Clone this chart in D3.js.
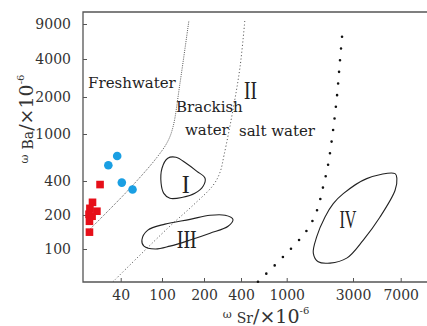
<!DOCTYPE html>
<html>
<head>
<meta charset="utf-8">
<script src="https://cdn.jsdelivr.net/npm/d3@7"></script>
<style>
  body { margin: 0; background: #fff; }
  text { font-family: "DejaVu Serif", serif; }
</style>
</head>
<body>
<script>
  // axis ticks (values) and where the original figure put them
  const xTicks = [40, 100, 200, 400, 1000, 3000, 7000];
  const yTicks = [100, 200, 400, 1000, 2000, 4000, 9000];
  const xTickPx = [120.7, 162, 204, 241, 286.7, 353, 400.7];
  const yTickPx = [249, 215, 181, 134, 97, 59, 24];

  // samples: Sr and Ba (x10^-6)
  const squareSr = [25.3, 21.4, 20.2, 23.6, 19.8, 21.2, 20.0, 20.0];
  const squareBa = [372, 259, 229, 216, 203, 195, 176, 141];
  const circleSr = [37, 30.4, 41, 52];
  const circleBa = [651, 543, 387, 336];

  // boundary curves [Sr, Ba]
  const freshLine = [[19.8, 147], [49.2, 345], [89.5, 635], [110, 867], [120, 1144], [134.6, 2578], [156, 9800]];
  const brackishLine = [[33.7, 51.3], [110, 153], [167, 244], [237, 366], [270, 474], [291, 660], [344, 1565], [393, 3467], [433, 10100]];
  const saltLine = [[562, 51.3], [928, 85], [1400, 147], [1652, 220], [1825, 352], [1982, 543], [2154, 1063], [2300, 2026], [2417, 3875], [2541, 8593]];

  // fields I, III, IV [Sr, Ba]
  const fieldI = [[110, 623], [126, 635], [149, 565], [178, 483], [204, 422], [197, 359], [172, 311], [141, 287], [114, 281], [103, 311], [98, 382], [100, 513]];
  const fieldIII = [[64, 120], [73, 147], [105, 166], [159, 183], [224, 199], [297, 199], [344, 183], [314, 159], [224, 138], [159, 120], [114, 106], [86, 100], [67, 106]];
  const fieldIV = [[6336, 462], [3827, 419], [2553, 309], [2163, 252], [1887, 192], [1643, 128], [1554, 92], [1687, 77], [2049, 75], [2703, 83], [3601, 120], [4850, 192], [6336, 331], [6540, 419]];

  const zoneNames = ["Freshwater", "Brackish", "water", "salt water"];
  const zoneSr = [19.4, 126, 146, 385];
  const zoneBa = [2349, 1508, 976, 957];
  const fieldNames = ["I", "II", "III", "IV"];
  const fieldSr = [147.9, 484, 150.4, 2761];
  const fieldBa = [311, 1917, 102, 152.8];
  const fieldW = [8, 13, 20, 17];

  const width = 427, height = 326;
  const plot = { left: 83, right: 427, top: 12, bottom: 282 };

  const svg = d3.select("body").append("svg")
    .attr("width", width)
    .attr("height", height);

  const x = d3.scaleLog().domain(xTicks).range(xTickPx);
  const y = d3.scaleLog().domain(yTicks).range(yTickPx);

  const axisColor = "#555";

  const yAxis = svg.append("g")
    .attr("transform", `translate(${plot.left},0)`)
    .call(d3.axisLeft(y).tickValues(yTicks).tickFormat(d3.format("d"))
      .tickSizeInner(-4).tickSizeOuter(0).tickPadding(12));
  const xAxis = svg.append("g")
    .attr("transform", `translate(0,${plot.bottom})`)
    .call(d3.axisBottom(x).tickValues(xTicks).tickFormat(d3.format("d"))
      .tickSizeInner(-4).tickSizeOuter(0).tickPadding(8));

  [xAxis, yAxis].forEach((g) => {
    g.select(".domain").remove();
    g.attr("font-family", "DejaVu Serif").attr("font-size", 14);
    g.selectAll("line").attr("stroke", axisColor);
    g.selectAll("text").attr("fill", "#333");
  });

  // frame: top, left, bottom
  svg.append("path")
    .attr("d", `M${plot.right},${plot.top}H${plot.left}V${plot.bottom}H${plot.right}`)
    .attr("fill", "none")
    .attr("stroke", axisColor)
    .attr("stroke-width", 1.3);

  const line = d3.line()
    .x((d) => x(d[0]))
    .y((d) => y(d[1]))
    .curve(d3.curveCatmullRom.alpha(0.5));
  const blob = d3.line()
    .x((d) => x(d[0]))
    .y((d) => y(d[1]))
    .curve(d3.curveCatmullRomClosed.alpha(0.5));

  svg.append("path").datum(freshLine)
    .attr("d", line).attr("fill", "none")
    .attr("stroke", "#444").attr("stroke-width", 0.9)
    .attr("stroke-dasharray", "1 1.2");
  svg.append("path").datum(brackishLine)
    .attr("d", line).attr("fill", "none")
    .attr("stroke", "#555").attr("stroke-width", 1)
    .attr("stroke-dasharray", "1.1 2.3");
  svg.append("path").datum(saltLine)
    .attr("d", line).attr("fill", "none")
    .attr("stroke", "#111").attr("stroke-width", 2.6)
    .attr("stroke-linecap", "round")
    .attr("stroke-dasharray", "0 11.7");

  svg.selectAll(".field")
    .data([fieldI, fieldIII, fieldIV])
    .enter().append("path")
    .attr("class", "field")
    .attr("d", blob)
    .attr("fill", "none")
    .attr("stroke", "#222")
    .attr("stroke-width", 1.1);

  // samples
  const sq = 7.6;
  svg.selectAll(".sq")
    .data(d3.zip(squareSr, squareBa))
    .enter().append("rect")
    .attr("class", "sq")
    .attr("x", (d) => x(d[0]) - sq / 2)
    .attr("y", (d) => y(d[1]) - sq / 2)
    .attr("width", sq).attr("height", sq)
    .attr("fill", "#e60f19");
  svg.selectAll(".dot")
    .data(d3.zip(circleSr, circleBa))
    .enter().append("circle")
    .attr("class", "dot")
    .attr("cx", (d) => x(d[0]))
    .attr("cy", (d) => y(d[1]))
    .attr("r", 4.3)
    .attr("fill", "#1a9fe3");

  // zone labels
  svg.selectAll(".zone")
    .data(zoneNames)
    .enter().append("text")
    .attr("class", "zone")
    .attr("x", (d, i) => x(zoneSr[i]))
    .attr("y", (d, i) => y(zoneBa[i]))
    .attr("font-size", 15)
    .attr("fill", "#222")
    .text((d) => d);

  svg.selectAll(".fname")
    .data(fieldNames)
    .enter().append("text")
    .attr("class", "fname")
    .attr("x", (d, i) => x(fieldSr[i]))
    .attr("y", (d, i) => y(fieldBa[i]))
    .attr("text-anchor", "middle")
    .attr("font-family", "Liberation Serif")
    .style("font-family", "Liberation Serif")
    .attr("font-size", 25)
    .attr("fill", "#222")
    .attr("textLength", (d, i) => fieldW[i])
    .attr("lengthAdjust", "spacingAndGlyphs")
    .text((d) => d);

  // axis titles
  function title(g, sub) {
    const t = g.append("text").attr("text-anchor", "middle").attr("fill", "#333");
    t.append("tspan").attr("font-size", 11).attr("dy", -5).text("ω");
    t.append("tspan").attr("font-size", 14).attr("dy", 5).attr("dx", 5).text(sub);
    t.append("tspan").attr("font-size", 19).text("/×10");
    t.append("tspan").attr("font-size", 10).attr("dy", -9).text("-6");
    return t;
  }
  title(svg.append("g").attr("transform", "translate(266,323)"), "Sr");
  title(svg.append("g").attr("transform", "translate(33,119) rotate(-90)"), "Ba");
</script>
</body>
</html>
